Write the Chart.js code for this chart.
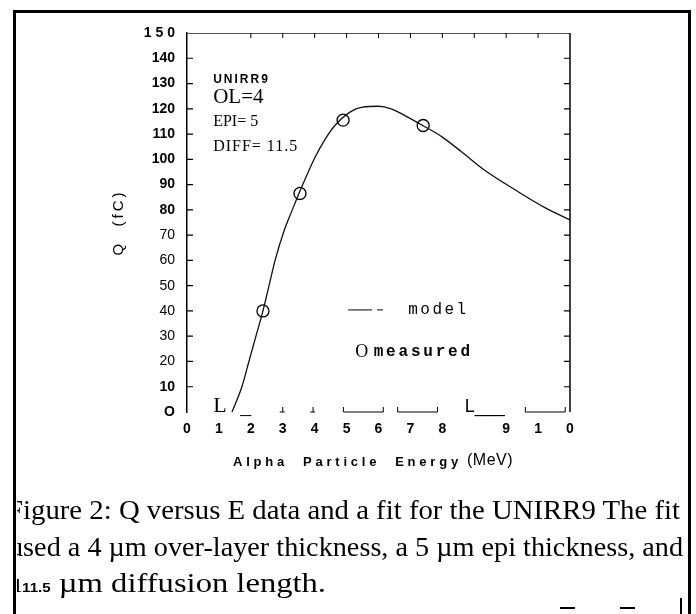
<!DOCTYPE html>
<html>
<head>
<meta charset="utf-8">
<script src="https://cdn.jsdelivr.net/npm/chart.js@4.4.1/dist/chart.umd.min.js"></script>
<style>
  html, body { margin: 0; padding: 0; background: #fff; }
  #page { position: relative; width: 696px; height: 614px; overflow: hidden; background: #fff; }
  #chart { position: absolute; left: 0; top: 0; }
  .frame { position: absolute; background: #000; }
  .caption {
    position: absolute; left: 17px; width: 671px; height: 36px; overflow: hidden;
    font-family: 'Liberation Serif', 'Times New Roman', serif; font-size: 28px;
    line-height: 36px; color: #000; white-space: nowrap;
  }
  .caption span.in { position: absolute; top: 0; transform-origin: 0 50%; }
  .small { font-family: 'Liberation Sans', Arial, sans-serif; font-weight: bold; font-size: 13px; }
</style>
</head>
<body>
<div id="page">
  <canvas id="chart" width="696" height="614"></canvas>

  <!-- scanned page frame -->
  <div class="frame" style="left:13px; top:10px; width:678px; height:3px;"></div>
  <div class="frame" style="left:13px; top:10px; width:3px; height:604px;"></div>
  <div class="frame" style="left:688px; top:10px; width:3px; height:604px;"></div>
  <div class="frame" style="left:560px; top:607px; width:15px; height:2px;"></div>
  <div class="frame" style="left:620px; top:607px; width:15px; height:2px;"></div>
  <div class="frame" style="left:680px; top:598px; width:2px; height:16px;"></div>

  <div class="caption" style="top:492px;"><span class="in" data-w="673" style="left:-10px;">Figure 2: Q versus E data and a fit for the UNIRR9 The fit</span></div>
  <div class="caption" style="top:529px;"><span class="in" data-w="674" style="left:-8px;">used a 4 µm over-layer thickness, a 5 µm epi thickness, and</span></div>
  <div class="caption" style="top:565px;"><span class="in" data-w="313" style="left:-4px;">ı<span class="small">11.5</span> µm diffusion length.</span></div>
</div>

<script>
// ── Data ──────────────────────────────────────────────────────────────────────
const energyTickLabels = ['0', '1', '2', '3', '4', '5', '6', '7', '8', '', '9', '1', '0'];
const chargeTickLabels = ['O', '10', '20', '30', '40', '50', '60', '70', '80', '90',
                          '100', '110', '120', '130', '140', '1 5 0'];

// measured points (MeV, fC)
const measuredEnergy = [2.38, 3.54, 4.89, 7.40];
const measuredCharge = [40, 86.5, 115.5, 113.4];

// model curve (MeV, fC)
const modelEnergy = [1.41, 1.72, 1.94, 2.16, 2.38, 2.57, 2.76, 3.05, 3.3, 3.54, 3.8, 4.0,
                     4.33, 4.64, 5.08, 5.5, 6.0, 6.4, 6.8, 7.37, 8.0, 8.6, 9.25, 10.4, 11.2, 12];
const modelCharge = [0, 10, 20, 30, 40, 50, 60, 72, 80, 87.5, 95, 100.5,
                     108, 113.5, 118.5, 120.7, 121, 120, 117.5, 113.5, 108.8, 103, 96.4, 87, 81, 76];

const SANS  = "'Liberation Sans', Arial, sans-serif";
const SERIF = "'Liberation Serif', 'Times New Roman', serif";
const MONO  = "'Liberation Mono', 'Courier New', monospace";

const toXY = (xs, ys) => xs.map((x, i) => ({ x, y: ys[i] }));

// stretch each caption line to the width it has in the scan
document.querySelectorAll('.caption span.in').forEach((el) => {
    const w = el.getBoundingClientRect().width;
    el.style.transform = `scaleX(${(+el.dataset.w / w).toFixed(4)})`;
});

// ── Decorations: frame, inward ticks, in-plot labels, hand-made legend ───────
const paperDecor = {
    id: 'paperDecor',
    afterDraw(chart) {
        const { ctx, chartArea: a, scales: { x, y } } = chart;
        const px = (v) => x.getPixelForValue(v);
        const py = (v) => y.getPixelForValue(v);

        ctx.save();
        ctx.strokeStyle = '#000';
        ctx.fillStyle   = '#000';

        // top and right sides of the box
        ctx.lineWidth = 1;
        ctx.strokeStyle = '#555';
        ctx.beginPath();
        ctx.moveTo(a.left, a.top + 0.5);
        ctx.lineTo(a.right, a.top + 0.5);
        ctx.stroke();
        ctx.strokeStyle = '#000';
        ctx.lineWidth = 1.5;
        ctx.beginPath();
        ctx.moveTo(a.right, a.top);
        ctx.lineTo(a.right, a.bottom);
        ctx.stroke();

        // inward ticks on left / right sides
        ctx.lineWidth = 1.2;
        for (let v = 10; v <= 140; v += 10) {
            ctx.beginPath();
            ctx.moveTo(a.left, py(v));
            ctx.lineTo(a.left + 6, py(v));
            ctx.moveTo(a.right, py(v));
            ctx.lineTo(a.right - 6, py(v));
            ctx.stroke();
        }
        // inward ticks on top side
        ctx.lineWidth = 1;
        for (let v = 2; v <= 11; v++) {
            ctx.beginPath();
            ctx.moveTo(px(v), a.top);
            ctx.lineTo(px(v), a.top + 5);
            ctx.stroke();
        }

        // broken bottom side, as in the scan
        ctx.lineWidth = 1;
        [[4.9, 6.15], [6.6, 7.85], [10.6, 11.85]].forEach(([s, e]) => {
            ctx.beginPath();
            ctx.moveTo(px(s), a.bottom);
            ctx.lineTo(px(e), a.bottom);
            ctx.moveTo(px(s), a.bottom);
            ctx.lineTo(px(s), a.bottom - 5);
            ctx.moveTo(px(e), a.bottom);
            ctx.lineTo(px(e), a.bottom - 5);
            ctx.stroke();
        });
        [3.0, 3.95].forEach((v) => {
            ctx.beginPath();
            ctx.moveTo(px(v) - 3, a.bottom);
            ctx.lineTo(px(v) + 2, a.bottom);
            ctx.moveTo(px(v), a.bottom);
            ctx.lineTo(px(v), a.bottom - 5);
            ctx.stroke();
        });
        ctx.textBaseline = 'alphabetic';
        ctx.textAlign = 'left';
        ctx.font = `22px ${SERIF}`;
        ctx.fillText('L', px(0.82), a.bottom);
        ctx.fillText('_', px(1.67), a.bottom + 1);
        ctx.font = `18px ${SANS}`;
        ctx.fillText('L___', px(8.7), a.bottom);

        // y axis title, rotated, letter-spaced
        ctx.save();
        ctx.translate(119, (a.top + a.bottom) / 2);
        ctx.rotate(-Math.PI / 2);
        ctx.textAlign = 'center';
        ctx.textBaseline = 'middle';
        ctx.font = `15px ${SANS}`;
        ctx.letterSpacing = '3px';
        ctx.fillText('Q  (fC)', 0, 0);
        ctx.restore();

        // in-plot parameter labels
        ctx.textBaseline = 'middle';
        ctx.font = `bold 12px ${SANS}`;
        ctx.letterSpacing = '2px';
        ctx.fillText('UNIRR9', px(0.82), py(131.5));
        ctx.letterSpacing = '0px';
        ctx.font = `21px ${SERIF}`;
        ctx.fillText('OL=4', px(0.82), py(124.3));
        ctx.font = `16px ${SERIF}`;
        ctx.fillText('EPI= 5', px(0.82), py(114.8));
        ctx.letterSpacing = '1px';
        ctx.fillText('DIFF= 11.5', px(0.82), py(104.9));

        // legend
        ctx.lineWidth = 1;
        ctx.beginPath();
        ctx.moveTo(px(5.05), py(40.4));
        ctx.lineTo(px(5.8), py(40.4));
        ctx.moveTo(px(5.96), py(40.4));
        ctx.lineTo(px(6.14), py(40.4));
        ctx.stroke();
        ctx.font = `16px ${MONO}`;
        ctx.letterSpacing = '2.5px';
        ctx.fillText('model', px(6.93), py(40.4));
        ctx.letterSpacing = '0px';
        ctx.font = `18px ${SERIF}`;
        ctx.fillText('O', px(5.27), py(23.7));
        ctx.font = `bold 16px ${MONO}`;
        ctx.letterSpacing = '2.8px';
        ctx.fillText('measured', px(5.85), py(23.7));

        // x axis title (bold words, light unit)
        ctx.textBaseline = 'middle';
        ctx.letterSpacing = '3.8px';
        ctx.font = `bold 13px ${SANS}`;
        ctx.fillText('Alpha  Particle  Energy', 233, 462);
        ctx.letterSpacing = '0.5px';
        ctx.font = `16px ${SANS}`;
        ctx.fillText('(MeV)', 467, 461);
        ctx.restore();
    },
};

new Chart(document.getElementById('chart'), {
    type: 'scatter',
    data: {
        datasets: [
            {
                label:            'model',
                data:             toXY(modelEnergy, modelCharge),
                showLine:         true,
                borderColor:      '#111',
                borderWidth:      1.3,
                pointRadius:      0,
                cubicInterpolationMode: 'monotone',
            },
            {
                label:            'measured',
                data:             toXY(measuredEnergy, measuredCharge),
                showLine:         false,
                pointStyle:       'circle',
                pointRadius:      6,
                borderColor:      '#000',
                borderWidth:      1.3,
                backgroundColor:  'rgba(0,0,0,0)',
            },
        ],
    },
    options: {
        responsive: false,
        animation:  false,
        events:     [],
        layout: { padding: { left: 112, top: 33, right: 126, bottom: 145 } },
        plugins: { legend: { display: false }, tooltip: { enabled: false } },
        scales: {
            x: {
                type: 'linear',
                min:  0,
                max:  12,
                grid:   { display: false, drawTicks: false },
                border: { display: false },
                ticks: {
                    stepSize:    1,
                    autoSkip:    false,
                    maxRotation: 0,
                    padding:     9,
                    color:       '#000',
                    font:        { family: SANS, size: 14, weight: 'bold' },
                    callback:    (v, i) => energyTickLabels[i],
                },
                afterFit: (s) => { s.height = 57; },
            },
            y: {
                type: 'linear',
                min:  0,
                max:  150,
                grid:   { display: false, drawTicks: false },
                border: { display: true, color: '#000', width: 1.5 },
                ticks: {
                    stepSize: 10,
                    autoSkip: false,
                    padding:  12,
                    color:    '#000',
                    font: (c) => ({
                        family: SANS,
                        size:   14,
                        weight: (c.index >= 2 && c.index <= 7) ? 'normal' : 'bold',
                    }),
                    callback: (v, i) => chargeTickLabels[i],
                },
                afterFit: (s) => { s.width = 75; },
            },
        },
    },
    plugins: [paperDecor],
});
</script>
</body>
</html>
